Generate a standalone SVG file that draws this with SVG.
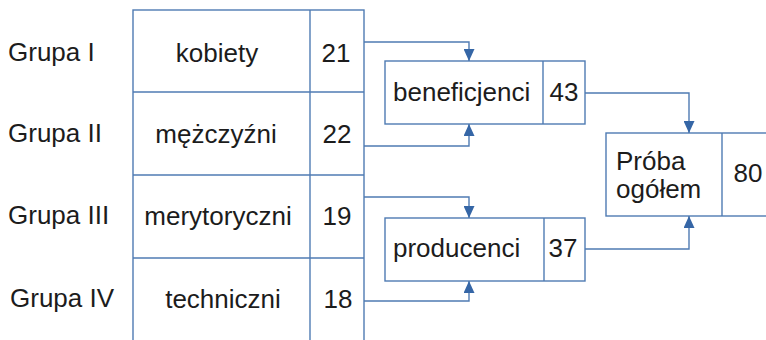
<svg xmlns="http://www.w3.org/2000/svg" width="766" height="340" viewBox="0 0 766 340">
<style>
.b{fill:#fff;stroke:#4f7bb3;stroke-width:1.4}
.l{fill:none;stroke:#4f7bb3;stroke-width:1.4}
text{font-family:"Liberation Sans",Arial,sans-serif;font-size:26px;fill:#1c1c1c}
.m{text-anchor:middle}
</style>
<defs>
<marker id="ah" viewBox="0 0 12 11" refX="12" refY="5.5" markerWidth="12" markerHeight="11" markerUnits="userSpaceOnUse" orient="auto">
<path d="M0,0 L12,5.5 L0,11 Z" fill="#3566a6"/>
</marker>
</defs>
<g id="labels">
<text x="8" y="61">Grupa I</text>
<text x="8" y="142">Grupa II</text>
<text x="8" y="224">Grupa III</text>
<text x="10" y="307">Grupa IV</text>
</g>
<g id="table">
<rect class="b" x="133" y="10" width="231" height="340"/>
<line class="l" x1="310" y1="10" x2="310" y2="345"/>
<line class="l" x1="133" y1="92" x2="364" y2="92"/>
<line class="l" x1="133" y1="175" x2="364" y2="175"/>
<line class="l" x1="133" y1="258" x2="364" y2="258"/>
<text class="m" x="217" y="62">kobiety</text>
<text class="m" x="216" y="143">mężczyźni</text>
<text class="m" x="218" y="225">merytoryczni</text>
<text class="m" x="223" y="308">techniczni</text>
<text class="m" x="336" y="62">21</text>
<text class="m" x="337" y="143">22</text>
<text class="m" x="337" y="225">19</text>
<text class="m" x="338" y="308">18</text>
</g>
<g id="beneficjenci">
<rect class="b" x="385" y="61" width="200" height="63"/>
<line class="l" x1="543" y1="61" x2="543" y2="124"/>
<text x="393" y="101">beneficjenci</text>
<text class="m" x="564" y="101">43</text>
</g>
<g id="producenci">
<rect class="b" x="385" y="218" width="200" height="63"/>
<line class="l" x1="544" y1="218" x2="544" y2="281"/>
<text x="393" y="257">producenci</text>
<text class="m" x="563" y="257">37</text>
</g>
<g id="proba">
<rect class="b" x="606" y="133" width="170" height="83"/>
<line class="l" x1="722" y1="133" x2="722" y2="216"/>
<text x="616" y="170">Próba</text>
<text x="616" y="198">ogółem</text>
<text class="m" x="748" y="182">80</text>
</g>
<g id="connectors">
<path class="l" d="M364,42 H469 V61" marker-end="url(#ah)"/>
<path class="l" d="M364,146 H469 V124" marker-end="url(#ah)"/>
<path class="l" d="M364,197 H469 V218" marker-end="url(#ah)"/>
<path class="l" d="M364,301 H469 V281" marker-end="url(#ah)"/>
<path class="l" d="M585,93 H689 V133" marker-end="url(#ah)"/>
<path class="l" d="M585,249 H689 V216" marker-end="url(#ah)"/>
</g>
</svg>
